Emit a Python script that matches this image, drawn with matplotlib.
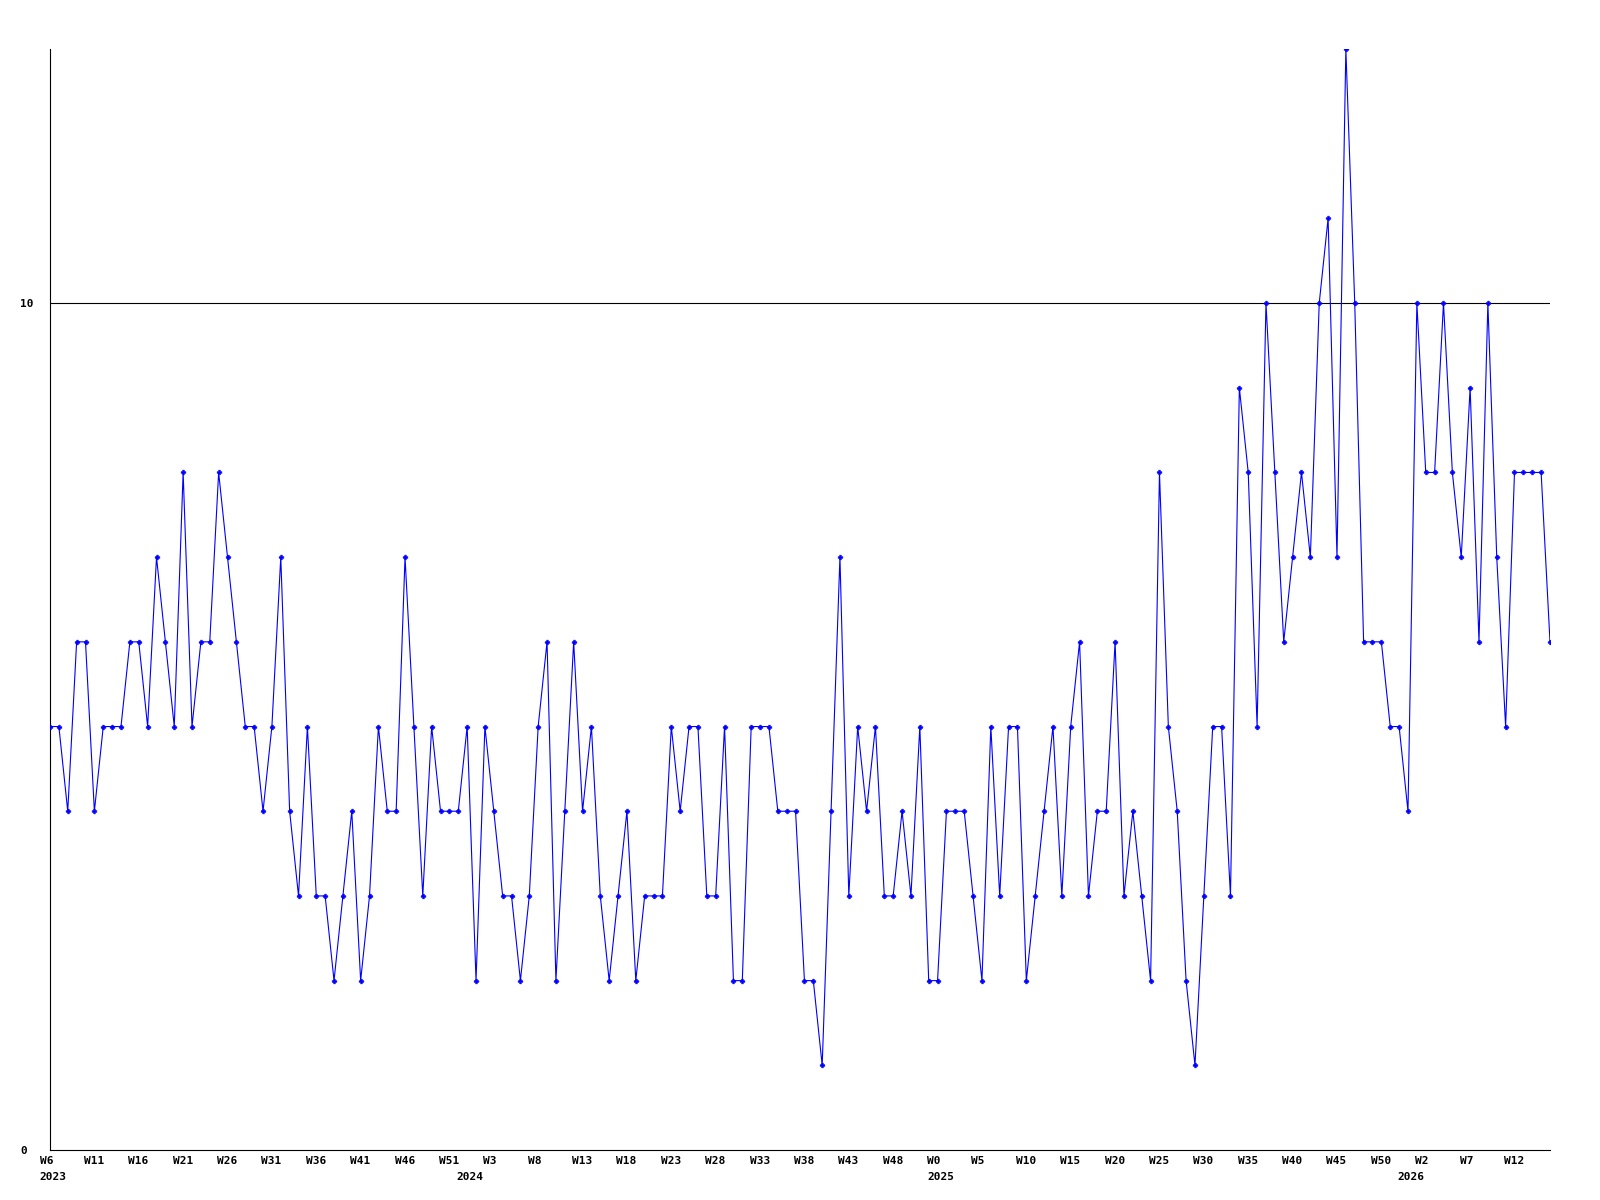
import matplotlib
matplotlib.use('Agg')
import matplotlib.pyplot as plt
import matplotlib.transforms as mtrans

# weekly values, 2023 W6 onwards
values = [5, 5, 4, 6, 6, 4, 5, 5, 5, 6, 6, 5, 7, 6, 5, 8, 5, 6, 6, 8,
          7, 6, 5, 5, 4, 5, 7, 4, 3, 5, 3, 3, 2, 3, 4, 2, 3, 5, 4, 4,
          7, 5, 3, 5, 4, 4, 4, 5, 2, 5, 4, 3, 3, 2, 3, 5, 6, 2, 4, 6,
          4, 5, 3, 2, 3, 4, 2, 3, 3, 3, 5, 4, 5, 5, 3, 3, 5, 2, 2, 5,
          5, 5, 4, 4, 4, 2, 2, 1, 4, 7, 3, 5, 4, 5, 3, 3, 4, 3, 5, 2,
          2, 4, 4, 4, 3, 2, 5, 3, 5, 5, 2, 3, 4, 5, 3, 5, 6, 3, 4, 4,
          6, 3, 4, 3, 2, 8, 5, 4, 2, 1, 3, 5, 5, 3, 9, 8, 5, 10, 8, 6,
          7, 8, 7, 10, 11, 7, 13, 10, 6, 6, 6, 5, 5, 4, 10, 8, 8, 10, 8, 7,
          9, 6, 10, 7, 5, 8, 8, 8, 8, 6]

week_labels = ['W6', 'W11', 'W16', 'W21', 'W26', 'W31', 'W36', 'W41', 'W46', 'W51',
               'W3', 'W8', 'W13', 'W18', 'W23', 'W28', 'W33', 'W38', 'W43', 'W48',
               'W0', 'W5', 'W10', 'W15', 'W20', 'W25', 'W30', 'W35', 'W40', 'W45',
               'W50', 'W2', 'W7', 'W12']
week_pos = list(range(0, 170, 5))
year_labels = ['2023', '2024', '2025', '2026']
year_pos = [0, 47, 100, 153]

fig = plt.figure(figsize=(16, 12), dpi=100)
ax = fig.add_axes([50 / 1600, 50 / 1200, 1500 / 1600, 1101 / 1200])

x = list(range(len(values)))
ax.plot(x, values, color='#0000ff', linewidth=0.8, marker='P',
        markersize=3.4, markeredgewidth=0.4, zorder=3)
ax.axhline(10, color='black', linewidth=0.8, zorder=1)

ax.set_xlim(0, len(values) - 1)
ax.set_ylim(0, 13)
for s in ['top', 'right']:
    ax.spines[s].set_visible(False)
for s in ['left', 'bottom']:
    ax.spines[s].set_linewidth(0.8)

font = dict(family='DejaVu Sans Mono', weight='bold', size=8)

ax.set_yticks([0, 10])
ax.set_yticklabels(['0', '10'], **font)
ax.tick_params(axis='y', length=0, pad=0)
yshift = mtrans.ScaledTranslation(-30 / 100, 0, fig.dpi_scale_trans)
for lab in ax.get_yticklabels():
    lab.set_horizontalalignment('left')
    lab.set_transform(lab.get_transform() + yshift)

ax.xaxis.remove_overlapping_locs = False
ax.set_xticks(week_pos)
ax.set_xticklabels(week_labels, **font)
ax.set_xticks(year_pos, minor=True)
ax.set_xticklabels(year_labels, minor=True, **font)
ax.tick_params(axis='x', which='major', length=0, pad=4)
ax.tick_params(axis='x', which='minor', length=0, pad=16)

shift = mtrans.ScaledTranslation(-10.5 / 100, 0, fig.dpi_scale_trans)
for lab in ax.get_xticklabels() + ax.get_xticklabels(minor=True):
    lab.set_horizontalalignment('left')
    lab.set_transform(lab.get_transform() + shift)

fig.savefig('out.png', dpi=100)
